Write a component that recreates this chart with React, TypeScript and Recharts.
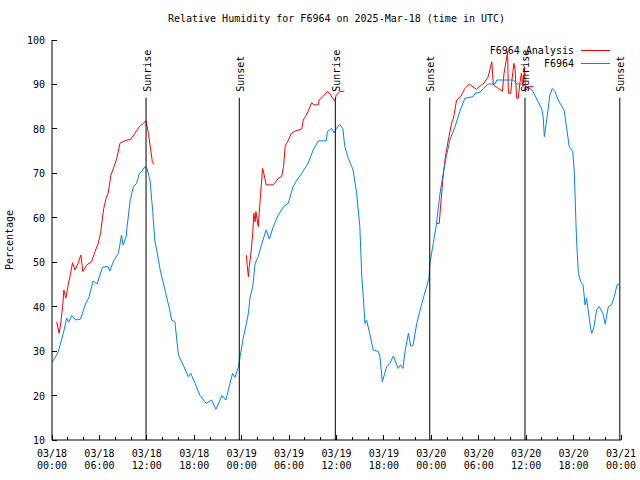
import React from "react";
import { LineChart, Line, XAxis, YAxis, ReferenceLine, Legend } from "recharts";

const FONT = "'DejaVu Sans Mono', 'Liberation Mono', monospace";
const FS = 10;

// hours since 03/18 00:00 UTC, relative humidity %
const stationObs: [number, number][] = [
  [0, 27.5], [0.4, 28.6], [0.8, 29.9], [1.2, 32.5], [1.5, 34.5], [1.85, 37.4], [2.1, 36.5],
  [2.5, 38], [3.0, 37], [3.6, 37.2], [4.2, 40.4], [4.7, 42.2], [5.2, 45.8], [5.7, 45.1],
  [6.4, 48.9], [7.1, 49], [7.3, 48], [7.85, 50.5], [8.4, 52], [8.8, 56.1], [9.0, 53.9],
  [9.4, 55.8], [9.5, 58], [9.9, 64], [10.3, 67], [10.7, 67.75], [11.05, 70], [11.4, 70.5],
  [11.75, 71.5], [12.0, 71.2], [12.4, 68.5], [12.75, 61.4], [13.0, 55], [13.25, 52.75],
  [13.7, 48.2], [14.3, 43.75], [14.9, 39.25], [15.15, 37], [15.55, 36.6], [16.0, 29.1],
  [16.6, 26.9], [17.25, 24.25], [17.55, 25], [18.1, 22.75], [18.7, 20.1], [19.5, 18.25],
  [20.2, 19], [20.75, 16.9], [21.5, 20], [22.0, 19], [22.85, 25], [23.15, 24.1], [23.6, 26.5],
  [23.8, 28.75], [24.2, 32.9], [24.6, 36.2], [24.85, 38.5], [25.05, 41.9], [25.4, 44.5],
  [25.7, 49.75], [26.1, 51.25], [26.5, 53.9], [27.1, 57.25], [27.5, 55.2], [28.0, 58],
  [28.6, 60.5], [29.3, 62.5], [29.9, 63.25], [30.5, 67], [31.0, 68.5], [31.6, 70],
  [32.4, 72.25], [33.05, 75.25], [33.7, 77.3], [34.7, 77.3], [34.85, 79.4], [35.4, 80.1],
  [35.7, 79.1], [36.0, 80.1], [36.4, 81], [36.8, 80.1], [37.05, 76], [37.5, 73.4],
  [38.1, 70.75], [38.55, 65.5], [38.95, 58], [39.2, 46.75], [39.4, 41.9], [39.6, 36.2],
  [39.8, 37], [40.2, 34], [40.65, 30.25], [41.3, 29.9], [41.5, 28.75], [41.8, 23.1],
  [42.35, 26.5], [42.75, 27.25], [43.2, 28.9], [43.8, 26.1], [44.1, 26.9], [44.4, 26.1],
  [44.7, 30.25], [45.1, 34], [45.4, 31.1], [45.7, 31.4], [46.15, 36.2], [46.8, 40.75],
  [47.4, 44.5], [47.7, 46.4], [47.8, 49.5], [48.25, 54.25], [48.6, 58], [49.1, 65.5],
  [49.5, 70], [49.9, 73.75], [50.35, 77.5], [51.0, 80.5], [51.6, 83.9], [52.25, 86.9],
  [53.3, 87.25], [53.5, 88], [54.1, 88.2], [54.6, 89.1], [55.2, 90.1], [56.05, 90.1],
  [56.3, 91], [58.4, 91], [58.8, 90.1], [59.6, 90.1], [60.05, 89.4], [60.7, 88.9],
  [61.1, 87.6], [61.5, 86.1], [61.95, 84.6], [62.15, 82.75], [62.3, 78.25], [62.6, 82],
  [63.0, 87.6], [63.3, 89.1], [63.65, 88.4], [64.05, 86.5], [64.5, 85.1], [64.8, 84.25],
  [65.1, 80.5], [65.45, 76], [65.9, 74.9], [66.1, 70], [66.3, 58.75], [66.4, 54.25],
  [66.6, 47.5], [66.9, 45.6], [67.2, 44.9], [67.45, 40.4], [67.65, 41.9], [67.85, 39.25],
  [68.15, 35.1], [68.3, 34], [68.6, 35.6], [68.9, 39.25], [69.25, 40], [69.7, 38.5],
  [70.0, 36.1], [70.4, 40], [70.8, 40.4], [71.15, 42.25], [71.5, 44.9], [71.75, 45.1],
];

const analysisDay1: [number, number][] = [
  [0.6, 36.6], [0.9, 34], [1.1, 36.2], [1.35, 40.1], [1.5, 43.75], [1.75, 41.9], [2.05, 44.9],
  [2.35, 47.5], [2.6, 49.9], [2.9, 48.25], [3.3, 49.75], [3.65, 51.6], [3.9, 47.9], [4.4, 49.4],
  [5.0, 50.1], [5.45, 52.4], [5.85, 54.25], [6.15, 56.5], [6.35, 59.5], [6.55, 62.1],
  [6.85, 64.4], [7.1, 65.5], [7.45, 69.6], [7.85, 71.5], [8.2, 73.4], [8.6, 76.75],
  [9.25, 77.35], [9.95, 77.65], [10.5, 79], [11.05, 80.5], [11.55, 81.25], [11.9, 81.85],
  [12.2, 79], [12.4, 76.4], [12.7, 72.6], [12.9, 72],
];

const analysisDay2: [number, number][] = [
  [24.6, 51.6], [24.7, 49.4], [24.85, 46.75], [24.95, 49], [25.15, 51.6], [25.4, 56.5],
  [25.55, 61], [25.7, 59.1], [25.8, 61.4], [26.1, 58], [26.4, 65.5], [26.65, 71.1], [26.8, 70],
  [27.1, 67.4], [28.0, 67.4], [28.65, 68.9], [29.05, 69.25], [29.3, 71.5], [29.5, 76],
  [29.8, 77.1], [30.3, 79], [30.75, 79.5], [31.6, 80], [31.8, 82], [32.0, 82.6], [32.4, 83.9],
  [32.85, 85.9], [33.15, 85.4], [33.7, 85.4], [33.8, 86.5], [34.35, 87.4], [34.85, 88.4],
  [35.2, 87.85], [35.6, 86.65], [35.8, 86.3], [35.95, 87.6], [36.2, 88], [36.45, 88.4],
  [37.0, 88.5],
];

const analysisDay3: [number, number][] = [
  [48.65, 58.75], [49.0, 58.75], [49.2, 63.25], [49.45, 68.5], [49.75, 73.4], [50.15, 77.5],
  [50.6, 81.6], [50.8, 82.4], [51.2, 86.5], [51.7, 87.25], [52.25, 89.1], [52.8, 90.1],
  [53.7, 88.9], [54.35, 89.9], [54.65, 90.25], [55.2, 91.75], [55.65, 95.1], [55.85, 89.9],
  [56.5, 89.1], [57.0, 88.5], [57.2, 92.5], [57.45, 95.1], [57.65, 97.4], [57.75, 88],
  [58.05, 88], [58.2, 91], [58.45, 94.75], [58.6, 93.25], [58.8, 86.9], [59.0, 86.9],
  [59.2, 90.25], [59.4, 92.5], [59.6, 89.5], [59.8, 94], [59.9, 88.4], [60.25, 89.5],
  [60.9, 89.5],
];

const sunEvents = [
  { t: 11.9, name: "Sunrise" },
  { t: 23.7, name: "Sunset" },
  { t: 35.85, name: "Sunrise" },
  { t: 47.8, name: "Sunset" },
  { t: 59.85, name: "Sunrise" },
  { t: 71.85, name: "Sunset" },
];

const hourTicks = [
  0, 2, 4, 6, 8, 10, 12, 14, 16, 18, 20, 22, 24, 26, 28, 30, 32, 34, 36,
  38, 40, 42, 44, 46, 48, 50, 52, 54, 56, 58, 60, 62, 64, 66, 68, 70, 72,
];
const labelTicks = [0, 6, 12, 18, 24, 30, 36, 42, 48, 54, 60, 66, 72];
const labelDates = ["03/18", "03/18", "03/18", "03/18", "03/19", "03/19", "03/19", "03/19", "03/20", "03/20", "03/20", "03/20", "03/21"];
const labelTimes = ["00:00", "06:00", "12:00", "18:00", "00:00", "06:00", "12:00", "18:00", "00:00", "06:00", "12:00", "18:00", "00:00"];
const rhTicks = [10, 20, 30, 40, 50, 60, 70, 80, 90, 100];

const legendItems = [
  { name: "F6964 Analysis", color: "#ff0000" },
  { name: "F6964", color: "#0080ff" },
];

const toRows = (pts: [number, number][]) => pts.map(([t, rh]) => ({ t, rh }));
const stationData = toRows(stationObs);
const analysisData = [
  ...toRows(analysisDay1),
  { t: 18, rh: null },
  ...toRows(analysisDay2),
  { t: 42, rh: null },
  ...toRows(analysisDay3),
];

const textStyle = { fontFamily: FONT, fontSize: FS, fill: "#000" };

function BottomTick({ x, y, payload }: any) {
  const idx = labelTicks.indexOf(payload.value);
  const major = idx >= 0;
  return (
    <g>
      <line x1={x} x2={x} y1={y} y2={y - (major ? 5 : 3)} stroke="#000" shapeRendering="crispEdges" />
      {major && (
        <text x={x} y={y + 17} textAnchor="middle" style={textStyle}>
          {labelDates[idx]}
        </text>
      )}
      {major && (
        <text x={x} y={y + 29} textAnchor="middle" style={textStyle}>
          {labelTimes[idx]}
        </text>
      )}
    </g>
  );
}

function TopTick({ x, y, payload }: any) {
  const major = labelTicks.includes(payload.value);
  return <line x1={x} x2={x} y1={y} y2={y + (major ? 5 : 3)} stroke="#000" shapeRendering="crispEdges" />;
}

function LeftTick({ x, y, payload }: any) {
  return (
    <g>
      <line x1={x} x2={x + 5} y1={y} y2={y} stroke="#000" shapeRendering="crispEdges" />
      <text x={x - 7} y={y + 4} textAnchor="end" style={textStyle}>
        {payload.value}
      </text>
    </g>
  );
}

function RightTick({ x, y }: any) {
  return <line x1={x} x2={x - 5} y1={y} y2={y} stroke="#000" shapeRendering="crispEdges" />;
}

function AxisTitle({ viewBox }: any) {
  const cx = viewBox.x + 13;
  const cy = viewBox.y + viewBox.height / 2;
  return (
    <text transform={`translate(${cx},${cy}) rotate(-90)`} textAnchor="middle" style={textStyle}>
      Percentage
    </text>
  );
}

function sunLabel(name: string) {
  return (props: any) => {
    const vb = props.viewBox;
    return (
      <text transform={`translate(${vb.x + 4.5},${vb.y - 6}) rotate(-90)`} textAnchor="start" style={textStyle}>
        {name}
      </text>
    );
  };
}

function LegendBox() {
  return (
    <div style={{ fontFamily: FONT, fontSize: FS }}>
      {legendItems.map((it) => (
        <div key={it.name} style={{ display: "flex", justifyContent: "flex-end", alignItems: "center", height: 13 }}>
          <span>{it.name}</span>
          <svg width={36} height={13} style={{ display: "block" }}>
            <line x1={7} x2={36} y1={6.5} y2={6.5} stroke={it.color} strokeWidth={1} />
          </svg>
        </div>
      ))}
    </div>
  );
}

export default function App() {
  return (
    <div style={{ position: "absolute", left: 0, top: 0, width: 640, height: 480, background: "#fff" }}>
      <div
        style={{
          position: "absolute",
          top: 13,
          left: 52,
          width: 569,
          textAlign: "center",
          fontFamily: FONT,
          fontSize: FS,
          lineHeight: "12px",
          whiteSpace: "nowrap",
        }}
      >
        Relative Humidity for F6964 on 2025-Mar-18 (time in UTC)
      </div>
      <LineChart width={640} height={480} margin={{ top: 40, right: 19, bottom: 0, left: 0 }}>
        <XAxis
          dataKey="t"
          type="number"
          domain={[0, 72]}
          ticks={hourTicks}
          interval={0}
          height={40}
          tickSize={0}
          tickMargin={0}
          tick={<BottomTick />}
          axisLine={{ stroke: "#000" }}
          allowDataOverflow
        />
        <XAxis
          xAxisId="top"
          orientation="top"
          dataKey="t"
          type="number"
          domain={[0, 72]}
          ticks={hourTicks}
          interval={0}
          height={0}
          tickSize={0}
          tickMargin={0}
          tick={<TopTick />}
          axisLine={{ stroke: "#000" }}
          allowDataOverflow
        />
        <YAxis
          type="number"
          domain={[10, 100]}
          ticks={rhTicks}
          interval={0}
          width={52}
          tickSize={0}
          tickMargin={0}
          tick={<LeftTick />}
          axisLine={{ stroke: "#000" }}
          label={<AxisTitle />}
          allowDataOverflow
        />
        <YAxis
          yAxisId="right"
          orientation="right"
          type="number"
          domain={[10, 100]}
          ticks={rhTicks}
          interval={0}
          width={0}
          tickSize={0}
          tickMargin={0}
          tick={<RightTick />}
          axisLine={{ stroke: "#000" }}
          allowDataOverflow
        />
        <Legend
          layout="horizontal"
          verticalAlign="middle"
          align="center"
          wrapperStyle={{ position: "absolute", left: 440, top: 43.5, width: 170 }}
          content={() => <LegendBox />}
        />
        <Line
          data={analysisData}
          dataKey="rh"
          stroke="#ff0000"
          strokeWidth={1}
          dot={false}
          activeDot={false}
          isAnimationActive={false}
        />
        <Line
          data={stationData}
          dataKey="rh"
          stroke="#0080ff"
          strokeWidth={1}
          dot={false}
          activeDot={false}
          isAnimationActive={false}
        />
        {sunEvents.map((ev, i) => (
          <ReferenceLine
            key={i}
            segment={[
              { x: ev.t, y: 87 },
              { x: ev.t, y: 10 },
            ]}
            stroke="#000"
            strokeWidth={1}
            label={sunLabel(ev.name)}
          />
        ))}
      </LineChart>
    </div>
  );
}
